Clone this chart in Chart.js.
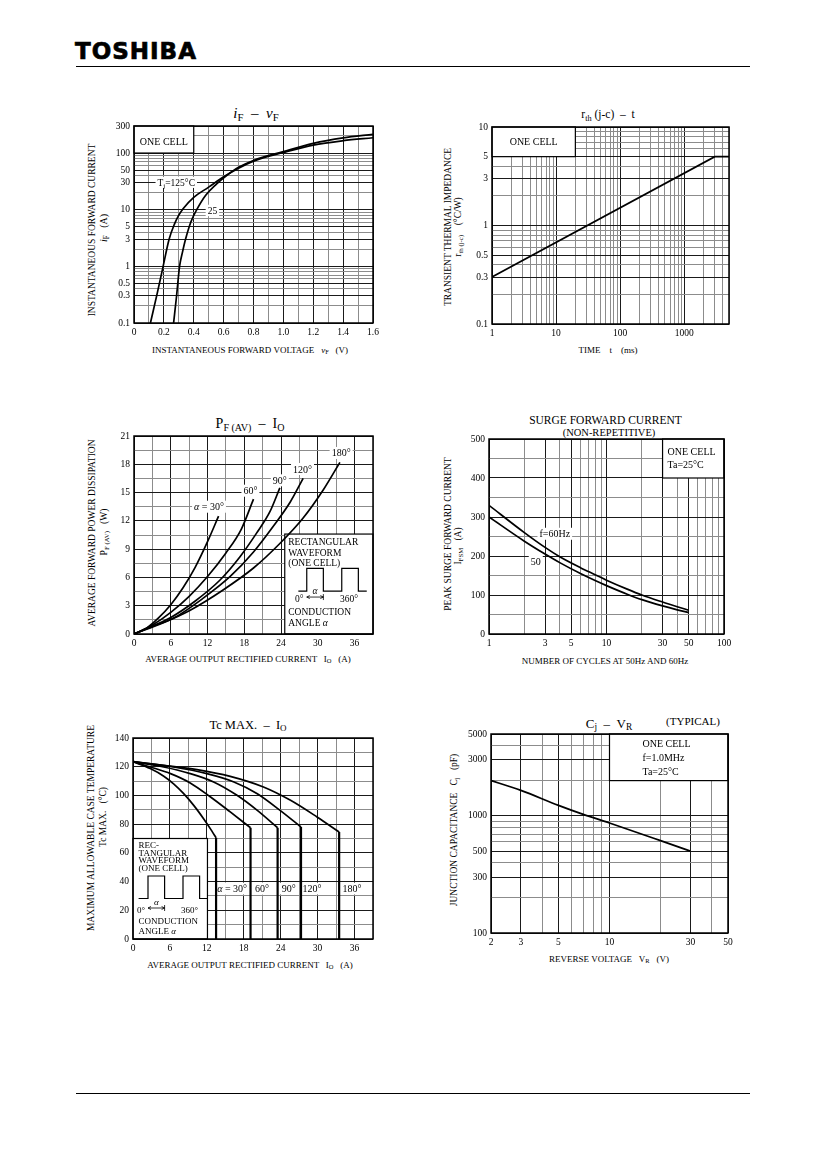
<!DOCTYPE html>
<html>
<head>
<meta charset="utf-8">
<script src="https://cdn.jsdelivr.net/npm/chart.js@4.4.0/dist/chart.umd.min.js"></script>
<style>
  body { margin: 0; background: #fff; }
  #page { position: relative; width: 826px; height: 1169px; overflow: hidden; color: #000;
          font-family: "Liberation Serif", "DejaVu Serif", serif; }
  .t { position: absolute; white-space: nowrap; line-height: 1; transform: translate(-50%, -50%); }
  .v { position: absolute; white-space: nowrap; line-height: 1; transform: translate(-50%, -50%) rotate(-90deg); }
  sub { font-size: 72%; vertical-align: -0.3em; line-height: 0; }
  .cbox { position: absolute; }
  .rule { position: absolute; left: 76px; width: 674px; height: 1px; background: #000; }
  #logo { position: absolute; left: 75px; top: 40px; font: bold 23px "DejaVu Sans", sans-serif; letter-spacing: 1px;
          line-height: 23px; -webkit-text-stroke: 0.7px #000; }
</style>
</head>
<body>
<div id="page">
  <div id="logo">TOSHIBA</div>
  <div class="rule" style="top:66px"></div>
  <div class="rule" style="top:1093px"></div>
</div>
<script>
// iF - vF
const vfTicks = ['0', '0.2', '0.4', '0.6', '0.8', '1.0', '1.2', '1.4', '1.6'];
const ifTicks = ['0.1', '0.3', '0.5', '1', '3', '5', '10', '30', '50', '100', '300'];
const ifGrid = [0.1, 0.2, 0.3, 0.4, 0.5, 0.6, 0.7, 0.8, 0.9, 1, 2, 3, 4, 5, 6, 7, 8, 9,
                10, 20, 30, 40, 50, 60, 70, 80, 90, 100, 200, 300];
const vf125 = [0.11, 0.155, 0.195, 0.235, 0.27, 0.30, 0.33, 0.40, 0.50, 0.60, 0.70, 0.80, 1.0, 1.2, 1.4, 1.6];
const if125 = [0.1, 0.33, 1, 3, 5.5, 8, 10.5, 16.5, 25, 38, 54, 72, 102, 138, 165, 186];
const vf25 = [0.265, 0.285, 0.305, 0.325, 0.345, 0.38, 0.42, 0.48, 0.55, 0.62, 0.70, 0.80, 1.0, 1.2, 1.4, 1.6];
const if25 = [0.1, 0.3, 1, 1.8, 3, 6, 10, 18, 28, 40, 56, 74, 106, 148, 185, 214];

// rth(j-c) - t
const tTicks = ['1', '10', '100', '1000'];
const tGrid = [1, 2, 3, 4, 5, 6, 7, 8, 9, 10, 20, 30, 40, 50, 60, 70, 80, 90,
               100, 200, 300, 400, 500, 600, 700, 800, 900, 1000, 2000, 3000, 4000, 5000];
const rthTicks = ['0.1', '0.3', '0.5', '1', '3', '5', '10'];
const rthGrid = [0.1, 0.2, 0.3, 0.4, 0.5, 0.6, 0.7, 0.8, 0.9, 1, 2, 3, 4, 5, 6, 7, 8, 9, 10];
const rthTime = [1, 3000, 5000];
const rthVal = [0.3, 5, 5];

// PF(AV) - IO
const ioTicks = ['0', '6', '12', '18', '24', '30', '36'];
const pfTicks = ['0', '3', '6', '9', '12', '15', '18', '21'];
const pf30I = [0, 2, 4, 6, 8, 10, 12, 13.8];
const pf30P = [0, 0.6, 1.7, 3.1, 4.9, 7.1, 9.8, 12.5];
const pf60I = [0, 3, 6, 9, 12, 15, 17.5, 19.5];
const pf60P = [0, 0.95, 2.3, 4.0, 6.1, 8.6, 11.1, 14.3];
const pf90I = [0, 3, 6, 10, 14, 17.3, 20, 22.2, 23.8];
const pf90P = [0, 0.85, 1.75, 3.5, 5.7, 8.2, 10.7, 13.0, 15.5];
const pf120I = [0, 3, 6.4, 11.3, 15.7, 19.5, 22.7, 25.5, 27.6];
const pf120P = [0, 0.8, 1.66, 3.8, 6.1, 8.7, 11.4, 14.0, 16.5];
const pf180I = [0, 4.8, 9.1, 14.6, 19.5, 23.8, 27.6, 30.9, 33.6];
const pf180P = [0, 1.2, 2.5, 4.7, 7.0, 9.6, 12.3, 15.3, 18.2];

// surge forward current
const cycTicks = ['1', '3', '5', '10', '30', '50', '100'];
const cycGrid = [1, 2, 3, 4, 5, 6, 7, 8, 9, 10, 20, 30, 40, 50, 60, 70, 80, 90, 100];
const ifsmTicks = ['0', '100', '200', '300', '400', '500'];
const cycles = [1, 2, 3, 4, 6, 8, 10, 15, 20, 30, 40, 50];
const ifsm60 = [330, 260, 222, 198, 170, 152, 138, 115, 100, 82, 70, 61];
const ifsm50 = [300, 238, 205, 183, 155, 137, 124, 102, 88, 72, 62, 55];

// Tc max - IO
const tcTicks = ['0', '20', '40', '60', '80', '100', '120', '140'];
const tc30I = [0, 2.8, 5.0, 6.6, 8.2, 9.9, 11.5, 12.8, 13.5];
const tc30T = [123.5, 118.7, 113.4, 108.1, 101.4, 92.9, 83.6, 75.3, 70.5];
const tc60I = [0, 2.8, 6.1, 9.3, 12.6, 15.8, 19.1];
const tc60T = [123.5, 119.8, 115.2, 108.7, 98.9, 88.5, 77.5];
const tc90I = [0, 5.0, 9.3, 13.1, 16.9, 20.2, 23.5];
const tc90T = [123.5, 119.8, 115.2, 109.4, 100.1, 89.6, 77.5];
const tc120I = [0, 6.6, 12.0, 16.4, 20.2, 23.9, 27.3];
const tc120T = [123.5, 119.8, 115.2, 109.4, 101.2, 89.6, 78];
const tc180I = [0, 5.0, 10.4, 15.8, 21.2, 25.6, 29.9, 33.5];
const tc180T = [123.5, 121.0, 118.0, 113.3, 105.9, 96.6, 85.0, 74.5];

// Cj - VR
const vrTicks = ['2', '3', '5', '10', '30', '50'];
const vrGrid = [2, 3, 4, 5, 6, 7, 8, 9, 10, 20, 30, 40, 50];
const cjTicks = ['100', '300', '500', '1000', '3000', '5000'];
const cjGrid = [100, 200, 300, 400, 500, 600, 700, 800, 900, 1000, 2000, 3000, 4000, 5000];
const vrVolts = [2, 3, 5, 7, 10, 20, 30];
const cjPf = [2000, 1650, 1230, 1030, 870, 615, 500];

const sheetFont = '"Liberation Serif", "DejaVu Serif", serif';
const PAD_L = 40, PAD_T = 10, PAD_R = 12, X_H = 22;
const page = document.getElementById('page');

// page texts: [html, centre x, centre y, size, rotated]
const texts = [
  ['<i>i</i><sub>F</sub> &nbsp;– &nbsp;<i>v</i><sub>F</sub>', 256, 113, 15],
  ['INSTANTANEOUS FORWARD VOLTAGE &nbsp;&nbsp;<i>v</i><sub>F</sub> &nbsp;&nbsp;(V)', 250, 350, 9],
  ['INSTANTANEOUS FORWARD CURRENT', 93, 230, 9.5, true],
  ['<i>i</i><sub>F</sub> &nbsp;&nbsp;(A)', 104, 228, 10, true],

  ['r<sub>th</sub> (j-c) &nbsp;– &nbsp;t', 608, 115, 11.5],
  ['TIME &nbsp;&nbsp;&nbsp;t &nbsp;&nbsp;&nbsp;(ms)', 608, 350, 9],
  ['TRANSIENT THERMAL IMPEDANCE', 448.5, 227, 9.5, true],
  ['r<sub>th (j-c)</sub> &nbsp;&nbsp;&nbsp;(°C/W)', 459, 227, 9.5, true],

  ['P<sub>F (AV)</sub> &nbsp;– &nbsp;I<sub>O</sub>', 250, 424, 14],
  ['AVERAGE OUTPUT RECTIFIED CURRENT &nbsp;&nbsp;I<sub>O</sub> &nbsp;&nbsp;(A)', 248, 659, 9],
  ['AVERAGE FORWARD POWER DISSIPATION', 93, 533, 9.5, true],
  ['P<sub>F (AV)</sub> &nbsp;&nbsp;(W)', 105, 532, 9.5, true],

  ['SURGE FORWARD CURRENT', 605.5, 421, 11.5],
  ['(NON-REPETITIVE)', 609, 433, 10.5],
  ['NUMBER OF CYCLES AT 50Hz AND 60Hz', 605, 661, 9],
  ['PEAK SURGE FORWARD CURRENT', 448.5, 534, 9.5, true],
  ['I<sub>FSM</sub> &nbsp;&nbsp;(A)', 459, 546, 9.5, true],

  ['Tc MAX. &nbsp;– &nbsp;I<sub>O</sub>', 248, 725, 12.5],
  ['AVERAGE OUTPUT RECTIFIED CURRENT &nbsp;&nbsp;I<sub>O</sub> &nbsp;&nbsp;(A)', 250, 965, 9],
  ['MAXIMUM ALLOWABLE CASE TEMPERATURE', 92, 828, 9.5, true],
  ['Tc MAX. &nbsp;&nbsp;(°C)', 104, 817, 9.5, true],

  ['C<sub>j</sub> &nbsp;– &nbsp;V<sub>R</sub>', 609, 723, 13],
  ['(TYPICAL)', 693, 721, 11],
  ['REVERSE VOLTAGE &nbsp;&nbsp;V<sub>R</sub> &nbsp;&nbsp;(V)', 609, 959, 9],
  ['JUNCTION CAPACITANCE &nbsp;&nbsp;C<sub>j</sub> &nbsp;&nbsp;(pF)', 455, 830, 9.5, true]
];
texts.forEach(([html, x, y, size, rot]) => {
  const d = document.createElement('div');
  d.className = rot ? 'v' : 't';
  d.style.left = x + 'px';
  d.style.top = y + 'px';
  d.style.fontSize = size + 'px';
  d.innerHTML = html;
  page.appendChild(d);
});

// rich text: _{..} subscript, ~{..} italic
function richParts(str) {
  const parts = [], re = /([_~])\{([^}]*)\}/g;
  let last = 0, m;
  while ((m = re.exec(str))) {
    if (m.index > last) parts.push({ t: str.slice(last, m.index) });
    parts.push({ t: m[2], sub: m[1] === '_', it: m[1] === '~' });
    last = re.lastIndex;
  }
  if (last < str.length) parts.push({ t: str.slice(last) });
  return parts;
}
function partFont(p, size) {
  return (p.it ? 'italic ' : '') + (p.sub ? size * 0.72 : size) + 'px ' + sheetFont;
}
function measureRich(ctx, str, size) {
  let w = 0;
  richParts(str).forEach(p => { ctx.font = partFont(p, size); w += ctx.measureText(p.t).width; });
  return w;
}
function drawRich(ctx, str, x, y, size, align) {
  const w = measureRich(ctx, str, size);
  let cx = align === 'center' ? x - w / 2 : x;
  ctx.textAlign = 'left';
  ctx.textBaseline = 'alphabetic';
  richParts(str).forEach(p => {
    ctx.font = partFont(p, size);
    ctx.fillText(p.t, cx, y + (p.sub ? size * 0.25 : 0));
    cx += ctx.measureText(p.t).width;
  });
}

function drawWave(ctx, l, t, w, size) {
  const [a, b, c, d, e, f] = w.xs;
  ctx.strokeStyle = '#000';
  ctx.lineWidth = 1.2;
  ctx.beginPath();
  ctx.moveTo(l + a, t + w.lo);
  [[b, w.lo], [b, w.hi], [c, w.hi], [c, w.lo], [d, w.lo], [d, w.hi], [e, w.hi], [e, w.lo], [f, w.lo]]
    .forEach(([px, py]) => ctx.lineTo(l + px, t + py));
  ctx.stroke();
  // conduction angle dimension
  ctx.lineWidth = 0.8;
  ctx.beginPath();
  ctx.moveTo(l + b, t + w.arrow); ctx.lineTo(l + c, t + w.arrow);
  ctx.moveTo(l + c, t + w.arrow - 3); ctx.lineTo(l + c, t + w.arrow + 3);
  ctx.moveTo(l + b + 3, t + w.arrow - 1.5); ctx.lineTo(l + b, t + w.arrow); ctx.lineTo(l + b + 3, t + w.arrow + 1.5);
  ctx.moveTo(l + c - 3, t + w.arrow - 1.5); ctx.lineTo(l + c, t + w.arrow); ctx.lineTo(l + c - 3, t + w.arrow + 1.5);
  ctx.stroke();
  ctx.fillStyle = '#000';
  drawRich(ctx, '~{α}', l + (b + c) / 2, t + w.alphaY, size, 'center');
  drawRich(ctx, '0°', l + w.zero[0], t + w.zero[1], size, 'left');
  drawRich(ctx, '360°', l + w.full[0], t + w.full[1], size, 'left');
}

// boxes and labels drawn over the grid, under the curves
const notes = {};
const sheetPlugin = {
  id: 'sheet',
  beforeDatasetsDraw(chart) {
    const n = notes[chart.canvas.id];
    if (!n) return;
    const ctx = chart.ctx, xs = chart.scales.x, ys = chart.scales.y;
    ctx.save();
    (n.boxes || []).forEach(b => {
      const l = xs.getPixelForValue(b.x0), r = xs.getPixelForValue(b.x1);
      const t = ys.getPixelForValue(b.y1), bt = ys.getPixelForValue(b.y0);
      ctx.fillStyle = '#fff';
      ctx.fillRect(l, t, r - l, bt - t);
      ctx.strokeStyle = '#000';
      ctx.lineWidth = 1.2;
      ctx.strokeRect(l, t, r - l, bt - t);
      ctx.fillStyle = '#000';
      (b.lines || []).forEach(ln => {
        drawRich(ctx, ln.t, ln.c ? (l + r) / 2 : l + ln.dx, t + ln.dy, b.size, ln.c ? 'center' : 'left');
      });
      if (b.wave) drawWave(ctx, l, t, b.wave, b.size);
    });
    (n.labels || []).forEach(lb => {
      const x = xs.getPixelForValue(lb.x), y = ys.getPixelForValue(lb.y);
      const size = lb.size || 10;
      const w = measureRich(ctx, lb.t, size);
      ctx.fillStyle = '#fff';
      ctx.fillRect(x - w / 2 - 2, y - size * 0.6, w + 4, size * 1.2);
      ctx.fillStyle = '#000';
      drawRich(ctx, lb.t, x, y + size * 0.35, size, 'center');
    });
    ctx.restore();
  },
  afterDraw(chart) {
    const a = chart.chartArea, ctx = chart.ctx;
    ctx.save();
    ctx.strokeStyle = '#000';
    ctx.lineWidth = 1.5;
    ctx.strokeRect(a.left, a.top, a.right - a.left, a.bottom - a.top);
    ctx.restore();
  }
};

function labelFor(labels, v) {
  const hit = labels.find(l => Math.abs(parseFloat(l) - v) < 1e-6 * Math.max(1, Math.abs(v)));
  return hit === undefined ? '' : hit;
}
function steps(min, max, step) {
  const out = [];
  for (let i = 0; min + i * step <= max + 1e-9; i++) out.push(Math.round((min + i * step) * 1000) / 1000);
  return out;
}
function axis(type, min, max, grid, labels, pos) {
  return {
    type, min, max, position: pos,
    afterBuildTicks: s => { s.ticks = grid.map(v => ({ value: v })); },
    afterFit: s => { if (pos === 'bottom') s.height = X_H; else s.width = PAD_L; },
    ticks: {
      autoSkip: false, maxRotation: 0, minRotation: 0, padding: 4, color: '#000',
      font: { family: sheetFont, size: 9.5 },
      callback: v => labelFor(labels, v)
    },
    grid: {
      drawTicks: false, lineWidth: 1,
      color: c => labelFor(labels, c.tick.value) !== '' ? '#1a1a1a' : '#8c8c8c'
    },
    border: { display: false }
  };
}
function curve(xs, ys, width) {
  return {
    data: xs.map((x, i) => ({ x, y: ys[i] })),
    showLine: true, borderColor: '#000', borderWidth: width || 1.7,
    pointRadius: 0, cubicInterpolationMode: 'monotone', fill: false
  };
}
function dropLine(xs, ys) {
  const x = xs[xs.length - 1], y = ys[ys.length - 1];
  return { data: [{ x, y }, { x, y: 0 }], showLine: true, borderColor: '#000', borderWidth: 2.2, pointRadius: 0, tension: 0 };
}
function makeChart(id, rect, xAxis, yAxis, datasets) {
  const [x0, y0, x1, y1] = rect;
  const box = document.createElement('div');
  box.className = 'cbox';
  box.style.left = (x0 - PAD_L) + 'px';
  box.style.top = (y0 - PAD_T) + 'px';
  box.style.width = (x1 - x0 + PAD_L + PAD_R) + 'px';
  box.style.height = (y1 - y0 + PAD_T + X_H) + 'px';
  const cv = document.createElement('canvas');
  cv.id = id;
  box.appendChild(cv);
  page.appendChild(box);
  return new Chart(cv.getContext('2d'), {
    type: 'scatter',
    data: { datasets },
    options: {
      responsive: true, maintainAspectRatio: false, animation: false,
      layout: { padding: { left: 0, top: PAD_T, right: PAD_R, bottom: 0 } },
      plugins: { legend: { display: false }, tooltip: { enabled: false } },
      scales: { x: xAxis, y: yAxis }
    },
    plugins: [sheetPlugin]
  });
}

// ---- iF - vF
notes.c1 = {
  boxes: [{ x0: 0, x1: 0.4, y0: 100, y1: 300, size: 10, lines: [{ t: 'ONE CELL', c: true, dy: 18.5 }] }],
  labels: [{ x: 0.283, y: 30.5, t: 'T_{j}=125°C', size: 9.5 }, { x: 0.525, y: 9.7, t: '25', size: 9.5 }]
};
makeChart('c1', [134, 126, 373, 323],
  axis('linear', 0, 1.6, steps(0, 1.6, 0.1), vfTicks, 'bottom'),
  axis('logarithmic', 0.1, 300, ifGrid, ifTicks, 'left'),
  [curve(vf125, if125), curve(vf25, if25)]);

// ---- rth - t
notes.c2 = {
  boxes: [{ x0: 1, x1: 20, y0: 5, y1: 10, size: 10, lines: [{ t: 'ONE CELL', c: true, dy: 18 }] }]
};
makeChart('c2', [492, 127, 729, 324],
  axis('logarithmic', 1, 5000, tGrid, tTicks, 'bottom'),
  axis('logarithmic', 0.1, 10, rthGrid, rthTicks, 'left'),
  [{ ...curve(rthTime, rthVal), cubicInterpolationMode: 'default', tension: 0 }]);

// ---- PF(AV) - IO
notes.c3 = {
  boxes: [{
    x0: 24.6, x1: 39, y0: 0, y1: 10.6, size: 9.5,
    lines: [{ t: 'RECTANGULAR', dx: 3.5, dy: 11 }, { t: 'WAVEFORM', dx: 3.5, dy: 21.5 },
            { t: '(ONE CELL)', dx: 3.5, dy: 32 }, { t: 'CONDUCTION', dx: 3.5, dy: 81 },
            { t: 'ANGLE ~{α}', dx: 3.5, dy: 91.5 }],
    wave: { lo: 57, hi: 34.3, xs: [13.6, 22, 38.6, 57, 73.6, 82], arrow: 63, alphaY: 59.5,
            zero: [10.3, 68], full: [55.3, 68] }
  }],
  labels: [{ x: 12.24, y: 13.5, t: '~{α} = 30°' }, { x: 19.0, y: 15.2, t: '60°' }, { x: 23.8, y: 16.3, t: '90°' },
           { x: 27.5, y: 17.5, t: '120°' }, { x: 33.8, y: 19.2, t: '180°' }]
};
makeChart('c3', [134, 436, 373, 634],
  axis('linear', 0, 39, steps(0, 39, 3), ioTicks, 'bottom'),
  axis('linear', 0, 21, steps(0, 21, 1.5), pfTicks, 'left'),
  [curve(pf30I, pf30P), curve(pf60I, pf60P), curve(pf90I, pf90P), curve(pf120I, pf120P), curve(pf180I, pf180P)]);

// ---- surge forward current
notes.c4 = {
  boxes: [{ x0: 30, x1: 100, y0: 400, y1: 500, size: 10,
            lines: [{ t: 'ONE CELL', dx: 5, dy: 16 }, { t: 'Ta=25°C', dx: 5, dy: 29.3 }] }],
  labels: [{ x: 3.63, y: 257, t: 'f=60Hz' }, { x: 2.5, y: 186, t: '50' }]
};
makeChart('c4', [489, 439, 724, 634],
  axis('logarithmic', 1, 100, cycGrid, cycTicks, 'bottom'),
  axis('linear', 0, 500, steps(0, 500, 50), ifsmTicks, 'left'),
  [curve(cycles, ifsm60), curve(cycles, ifsm50)]);

// ---- Tc max - IO
notes.c5 = {
  boxes: [{
    x0: 0, x1: 12.1, y0: 0, y1: 70, size: 9,
    lines: [{ t: 'REC-', dx: 5.6, dy: 9.5 }, { t: 'TANGULAR', dx: 5.6, dy: 17 }, { t: 'WAVEFORM', dx: 5.6, dy: 24.5 },
            { t: '(ONE CELL)', dx: 5.6, dy: 32 }, { t: 'CONDUCTION', dx: 5.6, dy: 85 }, { t: 'ANGLE ~{α}', dx: 5.6, dy: 95.5 }],
    wave: { lo: 60, hi: 37.5, xs: [5.6, 15, 31.6, 50, 66.6, 74], arrow: 69.5, alphaY: 66,
            zero: [4, 74.5], full: [48, 74.5] }
  }],
  labels: [{ x: 16.1, y: 35.1, t: '~{α} = 30°' }, { x: 20.96, y: 35.1, t: '60°' }, { x: 25.3, y: 35.1, t: '90°' },
           { x: 29.1, y: 35.1, t: '120°' }, { x: 35.6, y: 35.1, t: '180°' }]
};
makeChart('c5', [133, 738, 373, 939],
  axis('linear', 0, 39, steps(0, 39, 3), ioTicks, 'bottom'),
  axis('linear', 0, 140, steps(0, 140, 10), tcTicks, 'left'),
  [curve(tc30I, tc30T), curve(tc60I, tc60T), curve(tc90I, tc90T), curve(tc120I, tc120T), curve(tc180I, tc180T),
   dropLine(tc30I, tc30T), dropLine(tc60I, tc60T), dropLine(tc90I, tc90T), dropLine(tc120I, tc120T), dropLine(tc180I, tc180T)]);

// ---- Cj - VR
notes.c6 = {
  boxes: [{ x0: 10, x1: 50, y0: 2000, y1: 5000, size: 10,
            lines: [{ t: 'ONE CELL', dx: 33, dy: 13.3 }, { t: 'f=1.0MHz', dx: 33, dy: 27 }, { t: 'Ta=25°C', dx: 33, dy: 41 }] }]
};
makeChart('c6', [491, 734, 728, 933],
  axis('logarithmic', 2, 50, vrGrid, vrTicks, 'bottom'),
  axis('logarithmic', 100, 5000, cjGrid, cjTicks, 'left'),
  [curve(vrVolts, cjPf)]);
</script>
</body>
</html>
